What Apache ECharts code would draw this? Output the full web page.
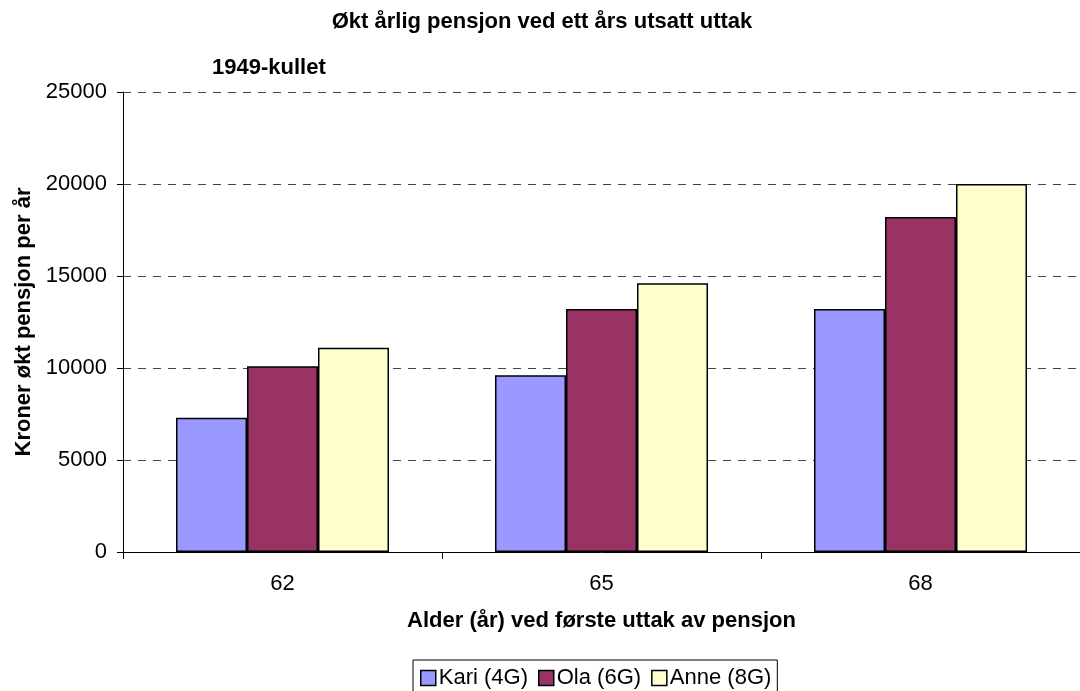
<!DOCTYPE html>
<html><head><meta charset="utf-8">
<script src="https://cdn.jsdelivr.net/npm/echarts@6/dist/echarts.min.js"></script>
<style>html,body{margin:0;padding:0;background:#fff}#c{width:1080px;height:691px}</style>
</head><body><div id="c"></div>
<script>
const categories = ['62', '65', '68'];
const seriesNames = ['Kari (4G)', 'Ola (6G)', 'Anne (8G)'];
const kari = [7300, 9600, 13200];
const ola = [10100, 13200, 18200];
const anne = [11100, 14600, 20000];
const colors = ['#9999FF', '#993366', '#FFFFCC'];

const font = '"Liberation Sans", Arial, sans-serif';
const FS = 22;
const chart = echarts.init(document.getElementById('c'));
const mk = (name, data, color) => ({
  name, type: 'bar', data, barWidth: 71, barGap: '0%',
  itemStyle: { color, borderColor: '#000', borderWidth: 1.5 },
  emphasis: { disabled: true }
});
chart.setOption({
  animation: false,
  textStyle: { fontFamily: font },
  title: [
    { text: 'Økt årlig pensjon ved ett års utsatt uttak', left: 537, textAlign: 'center', top: 6,
      textStyle: { fontSize: FS, fontWeight: 'bold', color: '#000', fontFamily: font } },
    { text: '1949-kullet', left: 207, top: 52,
      textStyle: { fontSize: FS, fontWeight: 'bold', color: '#000', fontFamily: font } }
  ],
  grid: { left: 123, top: 92, width: 960, height: 460, containLabel: false },
  legend: {
    data: seriesNames, left: 413, top: 660, itemWidth: 15, itemHeight: 15, itemGap: 10,
    icon: 'rect',
    borderColor: '#000', borderWidth: 1, padding: [7, 6, 6, 7],
    textStyle: { fontSize: FS, color: '#000', fontFamily: font, padding: [0, 0, 0, -2] },
    itemStyle: { borderColor: '#000', borderWidth: 1.5 }
  },
  xAxis: {
    type: 'category', data: categories,
    name: 'Alder (år) ved første uttak av pensjon', nameLocation: 'middle', nameGap: 58,
    nameTextStyle: { fontSize: FS, fontWeight: 'bold', color: '#000', fontFamily: font },
    axisLine: { lineStyle: { color: '#000', width: 1 } },
    axisTick: { show: true, length: 7, lineStyle: { color: '#000' } },
    axisLabel: { fontSize: FS, color: '#000', margin: 21, fontFamily: font },
    splitLine: { show: false }
  },
  yAxis: {
    type: 'value', min: 0, max: 25000, interval: 5000,
    name: 'Kroner økt pensjon per år', nameLocation: 'middle', nameGap: 86,
    nameTextStyle: { fontSize: FS, fontWeight: 'bold', color: '#000', fontFamily: font },
    axisLine: { show: true, lineStyle: { color: '#000', width: 1 } },
    axisTick: { show: true, length: 6, lineStyle: { color: '#000' } },
    axisLabel: { fontSize: FS, color: '#000', margin: 16, fontFamily: font, formatter: v => String(v) },
    splitLine: { show: true, lineStyle: { color: '#444', type: [8, 7], width: 1 } }
  },
  series: [mk(seriesNames[0], kari, colors[0]), mk(seriesNames[1], ola, colors[1]), mk(seriesNames[2], anne, colors[2])]
});
</script></body></html>
